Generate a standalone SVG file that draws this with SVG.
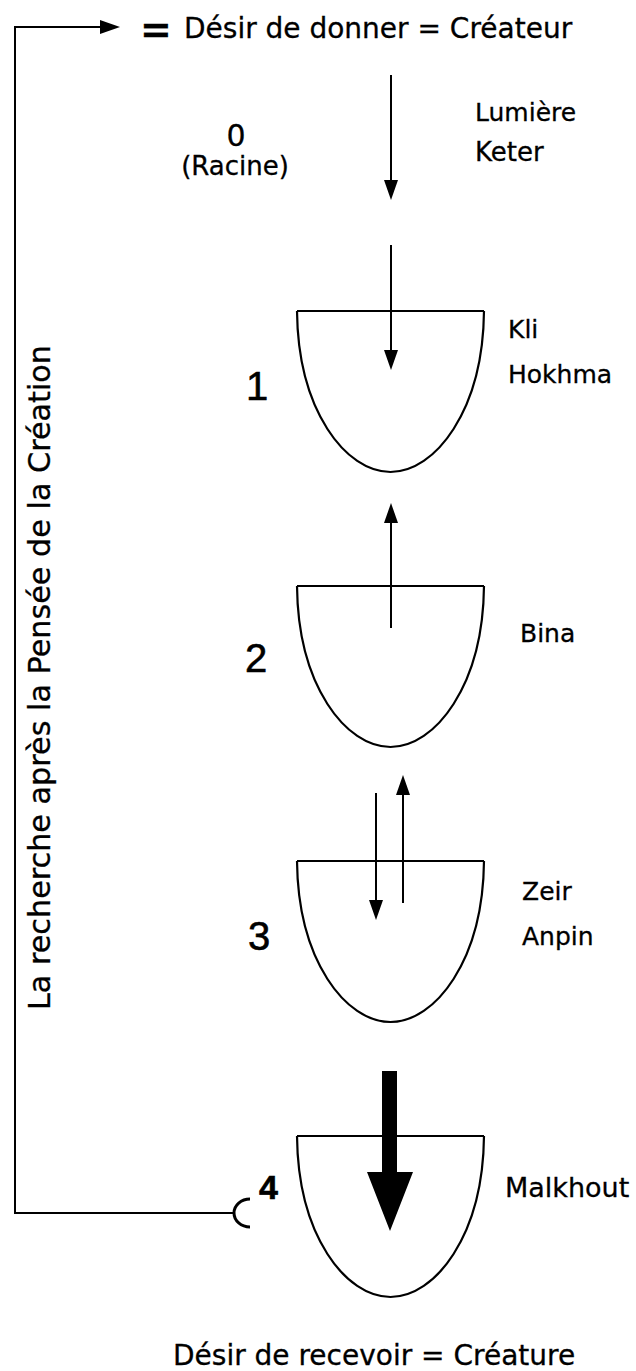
<svg xmlns="http://www.w3.org/2000/svg" width="636" height="1371" viewBox="0 0 636 1371">
<style>
.lbl{font-family:"DejaVu Sans","Noto Sans",sans-serif;fill:#000;stroke:#000;stroke-width:0.3}
.dig{font-family:"Liberation Sans",Arial,sans-serif;fill:#000;stroke:#000;stroke-width:0.6}
.ln{fill:none;stroke:#000;stroke-width:2}
.bowl{fill:none;stroke:#000;stroke-width:2.2;stroke-linejoin:round}
</style>
<defs>
<marker id="ah" markerUnits="userSpaceOnUse" markerWidth="20" markerHeight="14" viewBox="0 0 20 14" refX="10" refY="7" orient="auto">
<path d="M0,0 L20,7 L0,14 Z" fill="#000"/>
</marker>
<path id="bowlShape" d="M297,0 L484,0 M297,0 C298,100 346,161 390.5,161 C435,161 483,100 484,0"/>
</defs>
<rect width="636" height="1371" fill="#fff"/>

<g id="connectors">
<path class="ln" d="M234,1213 L15,1213 L15,27 L110,27" marker-end="url(#ah)"/>
<path d="M250,1199 A16 14 0 0 0 250,1227" fill="none" stroke="#000" stroke-width="3"/>
<line class="ln" x1="391" y1="75" x2="391" y2="190" marker-end="url(#ah)"/>
<line class="ln" x1="391" y1="245" x2="391" y2="360" marker-end="url(#ah)"/>
<line class="ln" x1="391" y1="628" x2="391" y2="513" marker-end="url(#ah)"/>
<line class="ln" x1="376" y1="793" x2="376" y2="910" marker-end="url(#ah)"/>
<line class="ln" x1="403" y1="903" x2="403" y2="785" marker-end="url(#ah)"/>
<path d="M382,1071 H397 V1172 H413 L390,1231 L367,1172 H382 Z" fill="#000"/>
</g>

<g id="top">
<text class="lbl" x="140" y="42" font-size="38" font-weight="bold">=</text>
<text class="lbl" x="184" y="38" font-size="28">Désir de donner = Créateur</text>
</g>

<g id="node0">
<text class="lbl" x="236" y="146" font-size="30" text-anchor="middle">0</text>
<text class="lbl" x="235" y="175" font-size="26" text-anchor="middle">(Racine)</text>
<text class="lbl" x="475" y="121" font-size="25">Lumière</text>
<text class="lbl" x="475" y="161" font-size="26">Keter</text>
</g>

<g id="node1">
<use href="#bowlShape" class="bowl" transform="translate(0,311)"/>
<text class="dig" x="246" y="400" font-size="40">1</text>
<text class="lbl" x="508" y="338" font-size="25">Kli</text>
<text class="lbl" x="508" y="383" font-size="25">Hokhma</text>
</g>

<g id="node2">
<use href="#bowlShape" class="bowl" transform="translate(0,586)"/>
<text class="dig" x="245" y="672" font-size="40">2</text>
<text class="lbl" x="520" y="642" font-size="25">Bina</text>
</g>

<g id="node3">
<use href="#bowlShape" class="bowl" transform="translate(0,861)"/>
<text class="dig" x="248" y="950" font-size="40">3</text>
<text class="lbl" x="522" y="900" font-size="25">Zeir</text>
<text class="lbl" x="522" y="945" font-size="25">Anpin</text>
</g>

<g id="node4">
<use href="#bowlShape" class="bowl" transform="translate(0,1136)"/>
<text class="dig" x="259" y="1199" font-size="34" font-weight="bold">4</text>
<text class="lbl" x="505" y="1197" font-size="27">Malkhout</text>
</g>

<g id="bottom">
<text class="lbl" x="173" y="1365" font-size="28">Désir de recevoir = Créature</text>
</g>

<g id="side">
<text class="lbl" transform="translate(50,1010) rotate(-90)" font-size="30" textLength="665" lengthAdjust="spacingAndGlyphs">La recherche après la Pensée de la Création</text>
</g>
</svg>
